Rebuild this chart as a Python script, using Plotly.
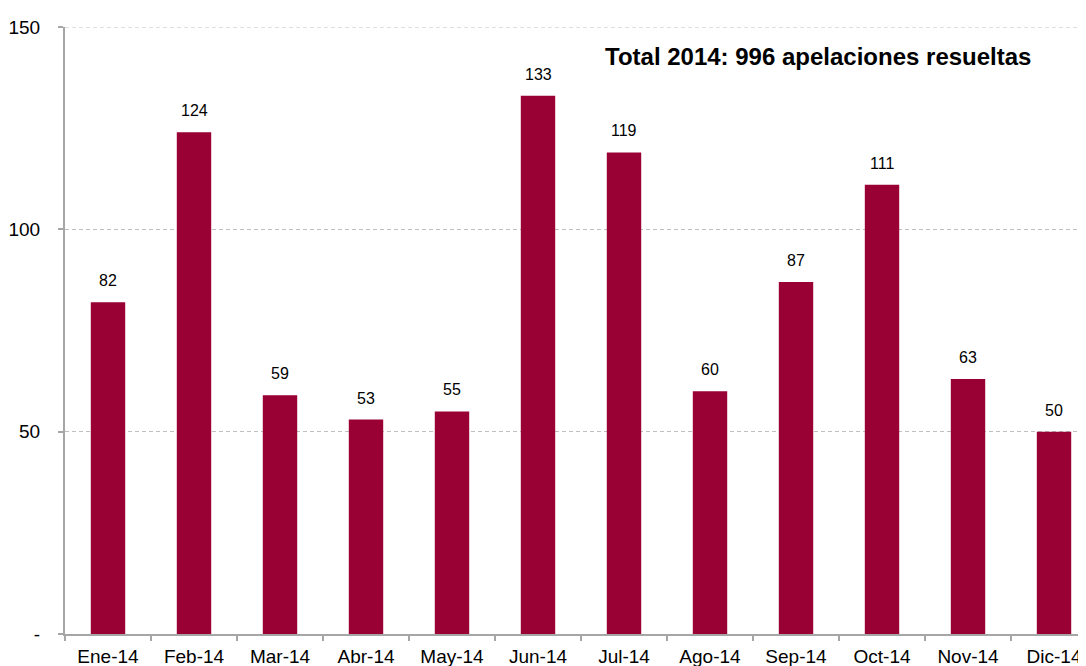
import plotly.graph_objects as go

categories = ["Ene-14", "Feb-14", "Mar-14", "Abr-14", "May-14", "Jun-14",
              "Jul-14", "Ago-14", "Sep-14", "Oct-14", "Nov-14", "Dic-14"]
values = [82, 124, 59, 53, 55, 133, 119, 60, 87, 111, 63, 50]
y_ticks = [0, 50, 100, 150]
y_tick_labels = ["-", "50", "100", "150"]
title_text = "Total 2014: 996 apelaciones resueltas"

bar_color = "#990033"
axis_color = "#A6A6A6"
grid_color = "#BFBFBF"
font_family = "Liberation Sans, Arial, sans-serif"

fig = go.Figure()
fig.add_trace(go.Bar(
    x=categories, y=values,
    marker=dict(color=bar_color, line=dict(width=0)),
    hoverinfo="skip",
))

for c, v in zip(categories, values):
    fig.add_annotation(x=c, y=v, text=str(v), showarrow=False,
                       yanchor="bottom", yshift=11,
                       font=dict(family=font_family, size=16, color="#000000"))

fig.add_annotation(xref="paper", yref="paper", x=0.527, y=0.951,
                   xanchor="left", yanchor="middle", showarrow=False,
                   text="<b>" + title_text + "</b>",
                   font=dict(family=font_family, size=24, color="#000000"))

# top gridline (at the upper range edge, which plotly does not draw)
fig.add_shape(type="line", xref="paper", yref="y", x0=0, x1=1,
              y0=y_ticks[-1], y1=y_ticks[-1],
              line=dict(color=grid_color, width=1, dash="4px,3px"), layer="below")

fig.update_layout(
    width=1078, height=658,
    margin=dict(l=57, r=0, t=19, b=32, pad=0),
    paper_bgcolor="white", plot_bgcolor="white",
    bargap=0.6, showlegend=False,
    font=dict(family=font_family, size=19, color="#000000"),
)
fig.update_xaxes(
    range=[-0.5, 11.372],
    showline=True, linecolor=axis_color, linewidth=2,
    ticks="outside", tickson="boundaries", ticklen=5, tickcolor=axis_color, tickwidth=2,
    showgrid=False, tickfont=dict(size=19),
    ticklabelstandoff=4,
)
fig.update_yaxes(
    range=[0, 150], tickvals=y_ticks, ticktext=y_tick_labels,
    showline=True, linecolor=axis_color, linewidth=2,
    ticks="outside", ticklen=5, tickcolor=axis_color, tickwidth=2,
    showgrid=True, gridcolor=grid_color, griddash="4px,3px", gridwidth=1,
    zeroline=False, tickfont=dict(size=19),
    ticklabelstandoff=14,
)

fig.write_html("out.html")
